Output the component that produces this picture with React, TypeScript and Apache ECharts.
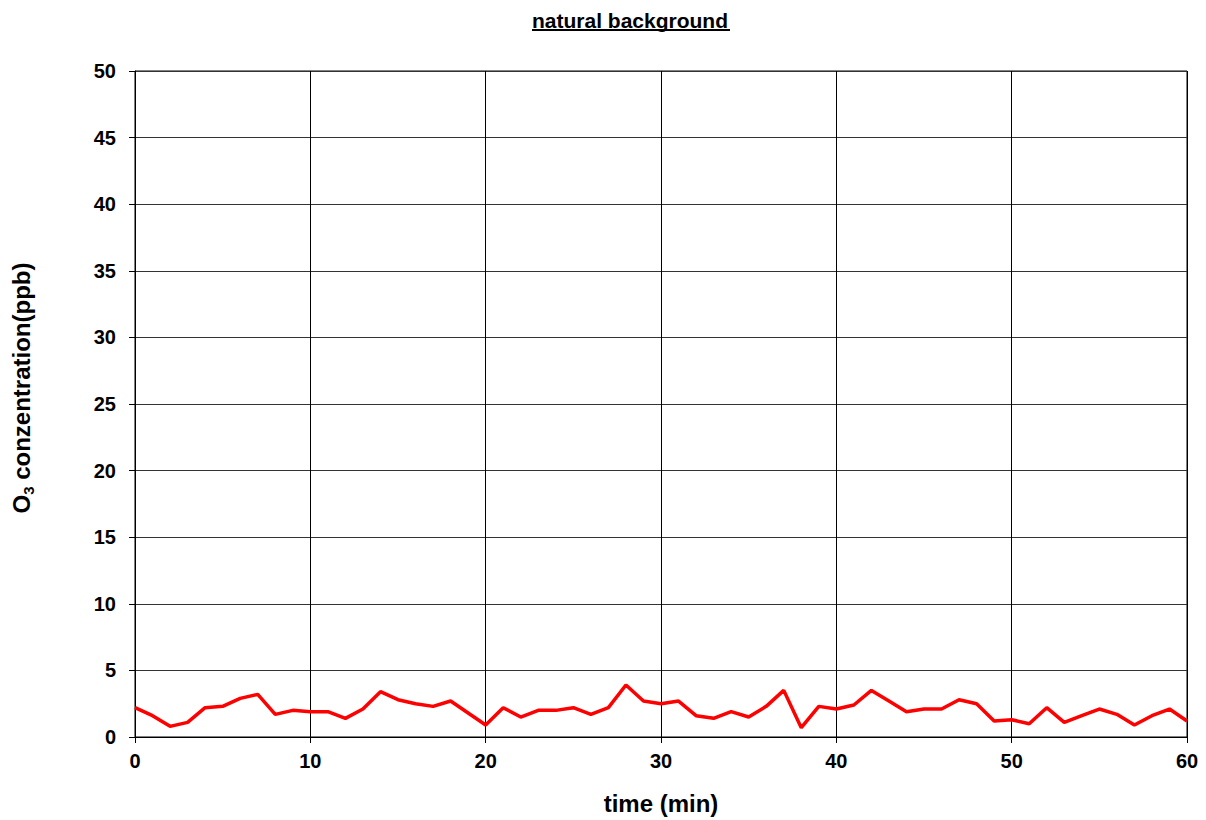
import React, { useEffect, useRef } from "react";
import * as echarts from "echarts";

const times: number[] = [
  0, 1, 2, 3, 4, 5, 6, 7, 8, 9, 10, 11, 12, 13, 14, 15, 16, 17, 18, 19, 20,
  21, 22, 23, 24, 25, 26, 27, 28, 29, 30, 31, 32, 33, 34, 35, 36, 37, 38, 39, 40,
  41, 42, 43, 44, 45, 46, 47, 48, 49, 50, 51, 52, 53, 54, 55, 56, 57, 58, 59, 60,
];
const ozone: number[] = [
  2.2, 1.6, 0.8, 1.1, 2.2, 2.3, 2.9, 3.2, 1.7, 2.0, 1.9, 1.9, 1.4, 2.1, 3.4, 2.8,
  2.5, 2.3, 2.7, 1.8, 0.9, 2.2, 1.5, 2.0, 2.0, 2.2, 1.7, 2.2, 3.9, 2.7, 2.5, 2.7,
  1.6, 1.4, 1.9, 1.5, 2.3, 3.5, 0.7, 2.3, 2.1, 2.4, 3.5, 2.7, 1.9, 2.1, 2.1, 2.8,
  2.5, 1.2, 1.3, 1.0, 2.2, 1.1, 1.6, 2.1, 1.7, 0.9, 1.6, 2.1, 1.2,
];

const FONT = "'Liberation Sans', Arial, sans-serif";

export default function App() {
  const ref = useRef<HTMLDivElement>(null);

  useEffect(() => {
    if (!ref.current) return;
    const chart = echarts.init(ref.current, undefined, { renderer: "svg" });
    chart.setOption({
      animation: false,
      backgroundColor: "#ffffff",
      title: {
        text: "natural background",
        left: 527,
        top: 5,
        textStyle: { fontFamily: FONT, fontWeight: "bold", fontSize: 21, color: "#000" },
      },
      graphic: [
        // title underline
        {
          type: "line",
          shape: { x1: 532, y1: 30, x2: 730, y2: 30 },
          style: { stroke: "#000", lineWidth: 2 },
        },
        // rotated y-axis title with subscript
        {
          type: "text",
          x: 21,
          y: 388,
          rotation: Math.PI / 2,
          style: {
            text: "{a|O}{s|3}{a| conzentration(ppb)}",
            align: "center",
            verticalAlign: "middle",
            rich: {
              a: { fontFamily: FONT, fontWeight: "bold", fontSize: 24, fill: "#000", color: "#000" },
              s: { fontFamily: FONT, fontWeight: "bold", fontSize: 15, fill: "#000", color: "#000", padding: [14, 0, 0, 0] },
            },
          },
        },
      ],
      grid: { left: 135, right: 19, top: 71, bottom: 78, show: true, borderColor: "#000", borderWidth: 1 },
      xAxis: {
        type: "value",
        min: 0,
        max: 60,
        interval: 10,
        name: "time (min)",
        nameLocation: "middle",
        nameGap: 54,
        nameTextStyle: { fontFamily: FONT, fontWeight: "bold", fontSize: 24, color: "#000" },
        axisLine: { show: true, lineStyle: { color: "#000", width: 1 } },
        axisTick: { show: true, length: 6, lineStyle: { color: "#000" } },
        axisLabel: { fontFamily: FONT, fontWeight: "bold", fontSize: 20, color: "#000", margin: 14 },
        splitLine: { show: true, lineStyle: { color: "#000", width: 1 } },
      },
      yAxis: {
        type: "value",
        min: 0,
        max: 50,
        interval: 5,
        axisLine: { show: true, lineStyle: { color: "#000", width: 1 } },
        axisTick: { show: true, length: 6, lineStyle: { color: "#000" } },
        axisLabel: { fontFamily: FONT, fontWeight: "bold", fontSize: 20, color: "#000", margin: 19 },
        splitLine: { show: true, lineStyle: { color: "#333", width: 1 } },
      },
      series: [
        {
          type: "line",
          data: times.map((t, i) => [t, ozone[i]]),
          showSymbol: false,
          lineStyle: { color: "#ff0000", width: 3.5 },
          itemStyle: { color: "#ff0000" },
        },
      ],
    });
    return () => chart.dispose();
  }, []);

  return <div ref={ref} style={{ width: 1206, height: 820, position: "absolute", left: 0, top: 0 }} />;
}
